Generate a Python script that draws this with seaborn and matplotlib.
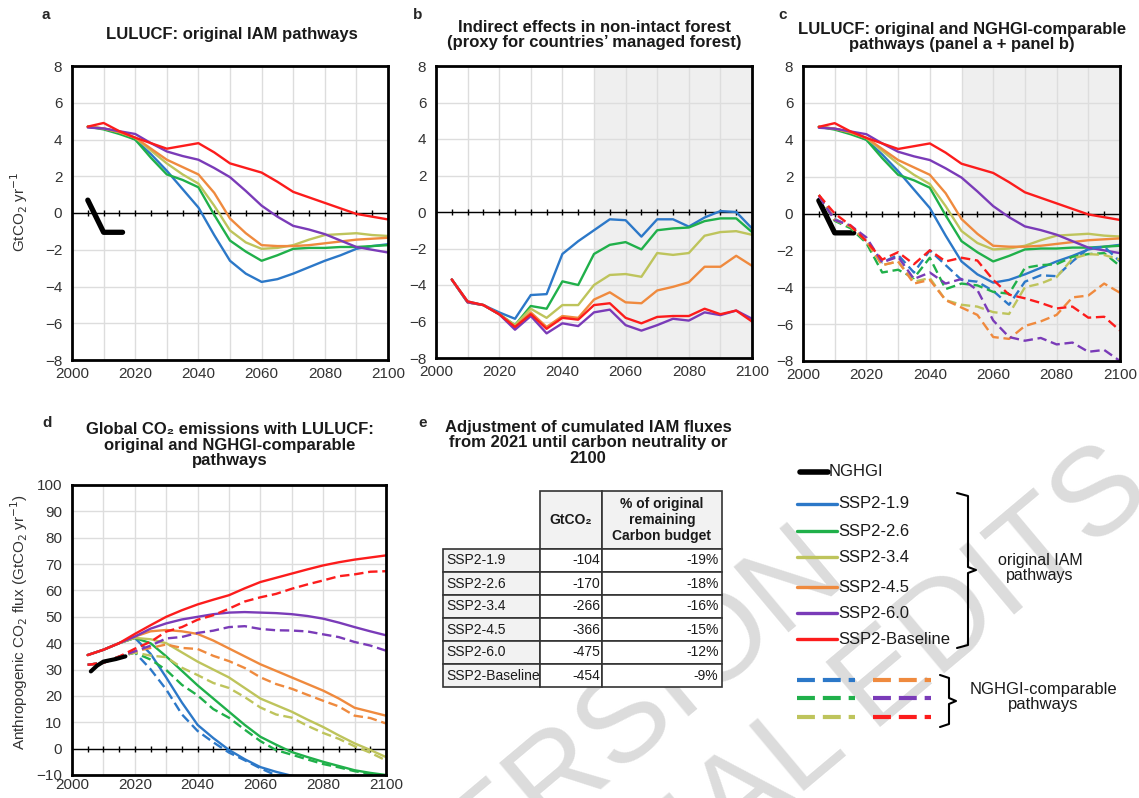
import numpy as np
import seaborn as sns
import matplotlib.pyplot as plt
from matplotlib.table import Table

# ---- data ----
years = list(range(2005, 2101, 5))
scenarios = ['SSP2-1.9', 'SSP2-2.6', 'SSP2-3.4', 'SSP2-4.5', 'SSP2-6.0', 'SSP2-Baseline']
colors = ['#2c78c8', '#20b04a', '#bec45c', '#ef8a3e', '#7a3bb8', '#fc1c1c']

# panel a: LULUCF, original IAM pathways (GtCO2/yr)
lulucf_19 = [4.7, 4.6, 4.4, 4.0, 3.2, 2.3, 1.3, 0.3, -1.2, -2.6, -3.3, -3.75, -3.6, -3.3, -2.95, -2.6, -2.3, -1.95, -1.8, -1.7]
lulucf_26 = [4.7, 4.55, 4.3, 4.0, 3.0, 2.1, 1.8, 1.4, -0.1, -1.5, -2.1, -2.6, -2.3, -1.95, -1.9, -1.9, -1.85, -1.85, -1.8, -1.75]
lulucf_34 = [4.7, 4.6, 4.4, 4.1, 3.4, 2.7, 2.1, 1.6, 0.4, -0.95, -1.6, -1.95, -1.9, -1.75, -1.45, -1.2, -1.15, -1.1, -1.2, -1.25]
lulucf_45 = [4.7, 4.6, 4.4, 4.1, 3.5, 2.9, 2.5, 2.1, 1.1, -0.3, -1.1, -1.75, -1.8, -1.8, -1.75, -1.65, -1.55, -1.45, -1.4, -1.35]
lulucf_60 = [4.65, 4.6, 4.45, 4.3, 3.8, 3.35, 3.1, 2.9, 2.45, 1.95, 1.2, 0.4, -0.2, -0.7, -0.9, -1.15, -1.5, -1.85, -2.0, -2.15]
lulucf_base = [4.7, 4.9, 4.45, 4.1, 3.8, 3.5, 3.65, 3.8, 3.3, 2.7, 2.45, 2.2, 1.7, 1.15, 0.85, 0.55, 0.25, -0.05, -0.2, -0.35]

# panel b: indirect effects in non-intact forest (GtCO2/yr)
indirect_19 = [-3.7, -4.9, -5.1, -5.5, -5.85, -4.55, -4.5, -2.3, -1.6, -1.0, -0.4, -0.45, -1.35, -0.4, -0.4, -0.8, -0.3, 0.05, 0.0, -0.9]
indirect_26 = [-3.7, -4.95, -5.1, -5.6, -6.2, -5.15, -5.3, -3.8, -4.0, -2.3, -1.8, -1.65, -2.05, -1.0, -0.9, -0.85, -0.5, -0.35, -0.35, -1.1]
indirect_34 = [-3.7, -4.95, -5.1, -5.6, -6.2, -5.3, -5.8, -5.1, -5.1, -4.0, -3.45, -3.4, -3.55, -2.25, -2.35, -2.25, -1.3, -1.1, -1.05, -1.25]
indirect_45 = [-3.7, -4.95, -5.1, -5.6, -6.3, -5.5, -6.3, -5.7, -5.8, -4.8, -4.4, -4.95, -5.0, -4.3, -4.1, -3.85, -3.0, -3.0, -2.4, -2.95]
indirect_60 = [-3.7, -4.95, -5.1, -5.6, -6.45, -5.7, -6.65, -6.1, -6.25, -5.5, -5.35, -6.2, -6.5, -6.2, -5.85, -5.95, -5.5, -5.65, -5.4, -5.85]
indirect_base = [-3.7, -4.9, -5.1, -5.6, -6.3, -5.6, -6.4, -5.8, -5.9, -5.1, -5.0, -5.8, -6.1, -5.75, -5.7, -5.7, -5.3, -5.6, -5.4, -6.0]

# panel d: global CO2 emissions with LULUCF (GtCO2/yr)
global_19 = [35.5, 37.5, 40, 42, 36, 27, 17.5, 9, 4, -0.5, -4, -7, -8.8, -10.3, -11.5, -12.5, -13.5, -14.5, -15.5, -16.5]
global_26 = [35.5, 37.5, 40, 42, 40, 35, 29.5, 24, 19, 14, 9, 4.5, 1.5, -1.3, -3.2, -5, -6.6, -8.2, -9.2, -10]
global_34 = [35.5, 37.5, 40, 42, 41.5, 40, 36.5, 33, 30, 27, 23, 19, 16.5, 14, 11, 8.2, 5, 2, -0.5, -3.2]
global_45 = [35.5, 37.5, 40, 42.5, 44.5, 45, 44.5, 43.5, 41, 38, 35, 32, 29.5, 27, 24.5, 22, 19, 15.5, 14, 12.5]
global_60 = [35.5, 37.5, 40, 42.5, 45.5, 47.5, 49, 50, 51, 51.6, 51.8, 51.6, 51.4, 51, 50.3, 49.3, 47.8, 46.1, 44.5, 43]
global_base = [35.5, 37.5, 40, 43.5, 46.8, 50, 52.5, 54.7, 56.5, 58.2, 60.8, 63.2, 64.8, 66.4, 68, 69.5, 70.7, 71.7, 72.5, 73.3]

# NGHGI (country inventories)
nghgi_years = [2005, 2007, 2010, 2016]
nghgi_lulucf = [0.7, 0.0, -1.05, -1.05]
nghgi_global_years = [2006, 2008, 2010, 2012, 2014, 2017]
nghgi_global = [29.3, 31.5, 33.0, 33.5, 34.0, 35.0]

# panel e table
table_gtco2 = ['-104', '-170', '-266', '-366', '-475', '-454']
table_pct = ['-19%', '-18%', '-16%', '-15%', '-12%', '-9%']

lulucf = [lulucf_19, lulucf_26, lulucf_34, lulucf_45, lulucf_60, lulucf_base]
indirect = [indirect_19, indirect_26, indirect_34, indirect_45, indirect_60, indirect_base]
global_em = [global_19, global_26, global_34, global_45, global_60, global_base]

# ---- style ----
sns.set_theme(style='whitegrid')
plt.rcParams['font.family'] = ['Liberation Sans', 'DejaVu Sans']

W, H = 1139, 798
fig = plt.figure(figsize=(W / 100, H / 100), dpi=100)


def px_axes(x0, y0, x1, y1, **kw):
    return fig.add_axes([x0 / W, 1 - y1 / H, (x1 - x0) / W, (y1 - y0) / H], **kw)


def ftext(x, y, s, **kw):
    fig.text(x / W, 1 - y / H, s, **kw)


def style_axes(ax, ylo, yhi, ystep, shade=False, xpad=5):
    ax.set_xlim(2000, 2100)
    ax.set_ylim(ylo, yhi)
    ax.set_xticks(range(2000, 2101, 20))
    ax.set_xticks(range(2000, 2101, 10), minor=True)
    ax.set_yticks(np.arange(ylo, yhi + 1, ystep))
    ax.grid(which='both', color='#dddddd', lw=1.0)
    ax.tick_params(which='both', length=0, labelsize=11, labelcolor='#333333')
    ax.tick_params(axis='x', pad=xpad)
    ax.tick_params(axis='y', pad=7)
    ax.set_facecolor('white')
    for s in ax.spines.values():
        s.set_color('black')
        s.set_linewidth(2.0)
    ax.axhline(0, color='black', lw=1.0, zorder=1.5)
    tk = np.arange(2005, 2100, 5)
    ax.plot(tk, np.zeros(len(tk)), ls='none', marker='|', color='black', ms=5, mew=1.0, zorder=1.5)
    if shade:
        ax.axvspan(2050, 2100, color='#efefef', zorder=0, lw=0)


lw = 1.7
dash = (0, (4, 2))

# panel a
ax_a = px_axes(72, 66, 388, 360)
style_axes(ax_a, -8, 8, 2)
for vals, c in zip(lulucf, colors):
    sns.lineplot(x=years, y=vals, ax=ax_a, color=c, lw=lw)
sns.lineplot(x=nghgi_years, y=nghgi_lulucf, ax=ax_a, color='black', lw=3.8, solid_capstyle='round')

# panel b
ax_b = px_axes(436, 66, 752, 358)
style_axes(ax_b, -8, 8, 2, shade=True)
for vals, c in zip(indirect, colors):
    sns.lineplot(x=years, y=vals, ax=ax_b, color=c, lw=lw)

# panel c
ax_c = px_axes(803, 66, 1120, 361)
style_axes(ax_c, -8, 8, 2, shade=True)
for vals, c in zip(lulucf, colors):
    sns.lineplot(x=years, y=vals, ax=ax_c, color=c, lw=lw)
sns.lineplot(x=nghgi_years, y=nghgi_lulucf, ax=ax_c, color='black', lw=3.8, solid_capstyle='round')
for vals, ind, c in zip(lulucf, indirect, colors):
    comp = np.array(vals) + np.array(ind)   # panel a + panel b
    sns.lineplot(x=years, y=comp, ax=ax_c, color=c, lw=lw, linestyle=dash)

# panel d
ax_d = px_axes(72, 485, 386, 775)
style_axes(ax_d, -10, 100, 10, xpad=2)
for vals, ind, c in zip(global_em, indirect, colors):
    sns.lineplot(x=years, y=vals, ax=ax_d, color=c, lw=lw)
    comp = np.array(vals) + np.array(ind)
    sns.lineplot(x=years, y=comp, ax=ax_d, color=c, lw=lw, linestyle=dash)
sns.lineplot(x=nghgi_global_years, y=nghgi_global, ax=ax_d, color='black', lw=3.0, solid_capstyle='round')
for ax in (ax_a, ax_b, ax_c, ax_d):
    ax.set_xlabel('')
    ax.set_ylabel('')

# titles and panel letters
tkw = dict(fontsize=12, fontweight='bold', ha='center', va='center', color='#1a1a1a')
ftext(42, 15, 'a', fontsize=11, fontweight='bold', va='center')
ftext(232, 34, 'LULUCF: original IAM pathways', **tkw)
ftext(413, 15, 'b', fontsize=11, fontweight='bold', va='center')
ftext(594, 35, 'Indirect effects in non-intact forest\n(proxy for countries\u2019 managed forest)', linespacing=1.05, **tkw)
ftext(778, 15, 'c', fontsize=11, fontweight='bold', va='center')
ftext(962, 37, 'LULUCF: original and NGHGI-comparable\npathways (panel a + panel b)', linespacing=1.05, **tkw)
ftext(42, 423, 'd', fontsize=11, fontweight='bold', va='center')
ftext(230, 445, 'Global CO\u2082 emissions with LULUCF:\noriginal and NGHGI-comparable\npathways', linespacing=1.05, **tkw)
ftext(418, 423, 'e', fontsize=11, fontweight='bold', va='center')
ftext(588, 443, 'Adjustment of cumulated IAM fluxes\nfrom 2021 until carbon neutrality or\n2100', linespacing=1.05, **tkw)

ftext(19, 212, 'GtCO$_2$ yr$^{-1}$', fontsize=11, rotation=90, ha='center', va='center', color='#333333')
ftext(19, 622, 'Anthropogenic CO$_2$ flux (GtCO$_2$ yr$^{-1}$)', fontsize=11, rotation=90,
      ha='center', va='center', color='#333333')

# watermark
wm = dict(fontsize=90, rotation=40, rotation_mode='anchor', ha='right', va='center', color='#dcdcdc', zorder=-1)
ftext(830, 556, 'ACCEPTED VERSION', **wm)
ftext(1134, 472, 'SUBJECT TO FINAL EDITS', **wm)

# panel e table
ax_t = px_axes(443, 491, 722, 687, zorder=1)
ax_t.axis('off')
ax_t.patch.set_alpha(0)
tb = Table(ax_t, bbox=[0, 0, 1, 1])
col_w = [97, 62, 120]
head_h, row_h = 58, 23
grey = '#f2f2f2'
tb.add_cell(0, 0, col_w[0], head_h, text='', facecolor='none', edgecolor='none')
tb.add_cell(0, 1, col_w[1], head_h, text='GtCO\u2082', loc='center', facecolor=grey)
tb.add_cell(0, 2, col_w[2], head_h, text='% of original\nremaining\nCarbon budget', loc='center', facecolor=grey)
for i, (name, g, p) in enumerate(zip(scenarios, table_gtco2, table_pct)):
    tb.add_cell(i + 1, 0, col_w[0], row_h, text=name, loc='left', facecolor=grey)
    tb.add_cell(i + 1, 1, col_w[1], row_h, text=g, loc='right', facecolor='white')
    tb.add_cell(i + 1, 2, col_w[2], row_h, text=p, loc='right', facecolor='white')
tb.auto_set_font_size(False)
tb.set_fontsize(10)
for (r, c), cell in tb.get_celld().items():
    cell.PAD = 0.03
    if r > 0 or c > 0:
        cell.set_edgecolor('#333333')
        cell.set_linewidth(1.2)
    if r == 0:
        cell.get_text().set_fontweight('bold')
        cell.get_text().set_linespacing(1.2)
    cell.get_text().set_color('#1a1a1a')
ax_t.add_table(tb)

# legend (drawn by hand to match the layout)
ax_l = fig.add_axes([0, 0, 1, 1], zorder=1)
ax_l.set_xlim(0, W)
ax_l.set_ylim(H, 0)
ax_l.axis('off')
ax_l.patch.set_alpha(0)
ax_l.plot([800, 828], [472, 472], color='black', lw=4, solid_capstyle='round')
ax_l.text(829, 472, 'NGHGI', fontsize=12, va='center', color='#1a1a1a')
leg_y = [504, 531, 557, 587, 613, 639]
for yy, name, c in zip(leg_y, scenarios, colors):
    ax_l.plot([797, 837], [yy, yy], color=c, lw=2.4)
    ax_l.text(838, yy, name, fontsize=12, va='center', color='#1a1a1a')
ax_l.plot([957, 968, 968, 976, 968, 968, 957], [493, 496, 567, 570, 573, 645, 648], color='black', lw=1.5)
ax_l.text(1040, 568, 'original IAM\npathways', fontsize=11.5, ha='center', va='center', linespacing=1.0,
          color='#1a1a1a')
dash_y = [680, 698, 717]
for k, c in enumerate(colors):
    x0 = 797 if k < 3 else 873
    yy = dash_y[k % 3]
    ax_l.plot([x0, x0 + 58], [yy, yy], color=c, lw=3.0, linestyle=(0, (4.3, 1.9)))
ax_l.plot([940, 949, 949, 956, 949, 949, 940], [675, 678, 698, 701, 704, 724, 727], color='black', lw=1.5)
ax_l.text(1043, 697, 'NGHGI-comparable\npathways', fontsize=12, ha='center', va='center', linespacing=1.0,
          color='#1a1a1a')

fig.savefig('out.png', dpi=100)
